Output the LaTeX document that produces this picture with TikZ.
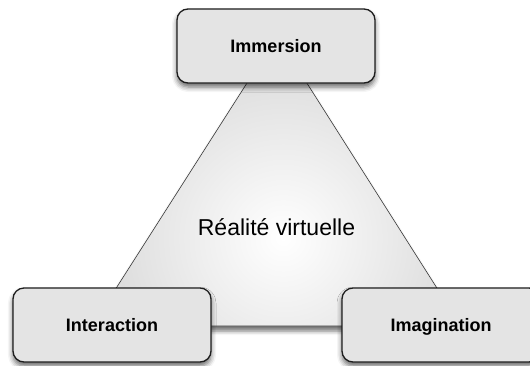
\documentclass[tikz,border=0pt]{standalone}
\usepackage{fontspec}
\setmainfont{Liberation Sans}
\usetikzlibrary{shadows.blur}
\definecolor{boxfill}{HTML}{E4E4E4}
\definecolor{boxline}{HTML}{1E1E1E}
\definecolor{triedge}{HTML}{3A3A3A}
\definecolor{triouter}{HTML}{C2C2C2}
\tikzset{
  pillar/.style={draw=boxline, line width=1.3pt, fill=boxfill, rounded corners=11pt,
    minimum width=198pt, minimum height=74pt, inner sep=0pt,
    text height=13pt, text depth=0pt,
    font=\fontsize{18}{20}\selectfont\bfseries,
    blur shadow={shadow xshift=0pt, shadow yshift=-4pt, shadow blur radius=5pt, shadow opacity=60}},
  centerlabel/.style={font=\fontsize{23}{26}\selectfont, inner sep=0pt, anchor=base}
}
\begin{document}
\begin{tikzpicture}[x=1pt,y=-1pt]
\useasboundingbox (0,0) rectangle (530,365);
\coordinate (apex) at (277,36);
\coordinate (bl) at (92,326);
\coordinate (br) at (461,326);
% triangle shadow
\fill[blur shadow={shadow xshift=0pt, shadow yshift=-5pt, shadow blur radius=4pt, shadow opacity=55}, fill=triouter] (apex) -- (bl) -- (br) -- cycle;
\begin{scope}
  \clip (apex) -- (bl) -- (br) -- cycle;
  \shade[inner color=white, outer color=triouter] (283,238) circle (310);
\end{scope}
\draw[triedge, line width=0.6pt] (apex) -- (bl) -- (br) -- cycle;
\node[centerlabel] (rv) at (276.5,235) {Réalité virtuelle};
\node[pillar] (imm) at (276,46) {Immersion};
\node[pillar] (int) at (112,325) {Interaction};
\node[pillar] (ima) at (441,325) {Imagination};
\end{tikzpicture}
\end{document}
